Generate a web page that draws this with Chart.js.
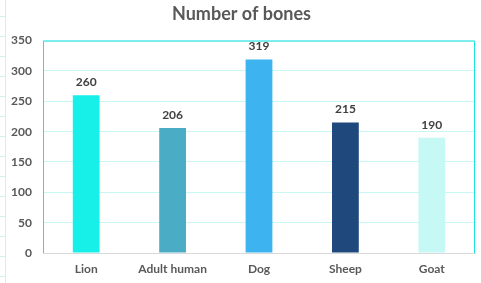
<!DOCTYPE html>
<html>
<head>
<meta charset="utf-8">
<script src="https://cdn.jsdelivr.net/npm/chart.js@4.4.0/dist/chart.umd.min.js"></script>
<style>
  html, body { margin: 0; padding: 0; background: #fff; }
  #wrap { width: 481px; height: 283px; position: relative; }
</style>
</head>
<body>
<div id="wrap"><canvas id="bar-chart"></canvas></div>
<script>
var animals = ["Lion", "Adult human", "Dog", "Sheep", "Goat"];
var bones = [260, 206, 319, 215, 190];
var barColors = ["#17F0E8", "#4BACC6", "#3DB4EF", "#1F497D", "#C6F8F5"];
var yTicks = [0, 50, 100, 150, 200, 250, 300, 350];

var fontFam = "Lato, 'Open Sans', sans-serif";

// value labels on top of each bar
var valueLabels = {
    id: 'valueLabels',
    afterDatasetsDraw: function (chart) {
        var ctx = chart.ctx;
        var meta = chart.getDatasetMeta(0);
        ctx.save();
        ctx.font = "bold 12px " + fontFam;
        ctx.fillStyle = "#404040";
        ctx.textAlign = "center";
        ctx.textBaseline = "bottom";
        meta.data.forEach(function (bar, i) {
            ctx.fillText(bones[i], bar.x, bar.y - 7);
        });
        ctx.restore();
    }
};

// cyan frame round the plot area + faint sheet edge on the left
var frame = {
    id: 'frame',
    beforeDraw: function (chart) {
        var ctx = chart.ctx;
        ctx.save();
        ctx.strokeStyle = "#D6EEF0";
        ctx.lineWidth = 1;
        ctx.beginPath();
        ctx.moveTo(5.5, 0);
        ctx.lineTo(5.5, chart.height);
        for (var y = 16; y < chart.height; y += 20) {
            ctx.moveTo(0, y + 0.5);
            ctx.lineTo(5, y + 0.5);
        }
        ctx.stroke();
        ctx.restore();
    },
    afterDraw: function (chart) {
        var a = chart.chartArea;
        var ctx = chart.ctx;
        ctx.save();
        ctx.strokeStyle = "#1CE3E0";
        ctx.lineWidth = 1;
        ctx.beginPath();
        ctx.moveTo(a.left + 0.5, a.bottom);
        ctx.lineTo(a.left + 0.5, a.top + 0.5);
        ctx.lineTo(a.right - 0.5, a.top + 0.5);
        ctx.lineTo(a.right - 0.5, a.bottom);
        ctx.stroke();
        ctx.restore();
    }
};

new Chart(document.getElementById("bar-chart"), {
    type: 'bar',
    data: {
        labels: animals,
        datasets: [{
            label: 'Number of bones',
            data: bones,
            backgroundColor: barColors,
            categoryPercentage: 1.0,
            barPercentage: 0.31
        }]
    },
    options: {
        responsive: true,
        maintainAspectRatio: false,
        animation: false,
        layout: { padding: { left: 8, right: 6, bottom: 0, top: 0 } },
        plugins: {
            legend: { display: false },
            tooltip: { enabled: false },
            title: {
                display: true,
                text: 'Number of bones',
                color: '#595959',
                font: { size: 18, weight: 'bold', family: fontFam },
                padding: { top: 3, bottom: 16 }
            }
        },
        scales: {
            x: {
                grid: { display: false, drawTicks: false },
                border: { color: '#D9D9D9' },
                afterFit: function (axis) { axis.height = 30; },
                ticks: {
                    color: '#595959',
                    padding: 9,
                    font: { size: 12, weight: 'bold', family: fontFam }
                }
            },
            y: {
                min: 0,
                max: 350,
                afterBuildTicks: function (axis) {
                    axis.ticks = yTicks.map(function (v) { return { value: v }; });
                },
                afterFit: function (axis) { axis.width = 35; },
                grid: { color: '#C9F7F5', drawTicks: false },
                border: { display: false },
                ticks: {
                    color: '#595959',
                    padding: 11,
                    font: { size: 12, weight: 'bold', family: fontFam }
                }
            }
        }
    },
    plugins: [valueLabels, frame]
});
</script>
</body>
</html>
